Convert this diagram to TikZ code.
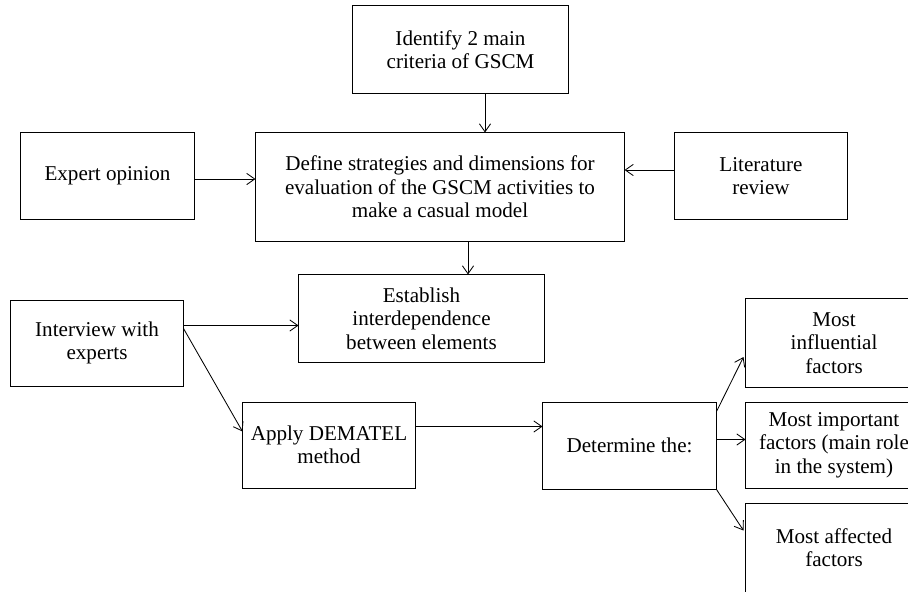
\documentclass[tikz,border=0pt]{standalone}
\usepackage{fontspec}
\setmainfont{Liberation Serif}
\usetikzlibrary{calc,arrows.meta}

\begin{document}
\begin{tikzpicture}[%
		x=0.025cm, y=-0.025cm,
		font=\fontsize{15}{16.6}\selectfont,
		box/.style={draw, line width=0.7pt, align=center, inner sep=0pt,
			minimum width=4.3cm, minimum height=2.15cm},
		link/.style={->, line width=0.6pt},
		>={Straight Barb[length=2mm,width=2.8mm]}
		]

		%% Rahmen (rechte Kaesten laufen ueber den Rand)
		\clip (0,0) rectangle (908,592);

		%% Kaesten
		\node[box, minimum width=5.375cm, minimum height=2.175cm] (identify) at (460.5,49.5) {Identify 2 main\\criteria of GSCM};
		\node[box, minimum width=9.2cm, minimum height=2.7cm] (define) at (440,187) {Define strategies and dimensions for\\evaluation of the GSCM activities to\\make a casual model};
		\node[box, minimum width=4.325cm] (expert) at (107.5,176) {Expert opinion};
		\node[box] (literature) at (761,176) {Literature\\review};
		\node[box, minimum width=6.125cm, minimum height=2.175cm] (establish) at (421.5,318.5) {Establish\\interdependence\\between elements};
		\node[box] (interview) at (97,343) {Interview with\\experts};
		\node[box] (apply) at (329,445) {Apply DEMATEL\\method};
		\node[box, minimum width=4.325cm, minimum height=2.175cm] (determine) at (629.5,445.5) {Determine the:};
		\node[box, minimum width=4.4cm, minimum height=2.2cm] (influential) at (834,343) {Most\\influential\\factors};
		\node[box, minimum width=4.4cm] (important) at (834,445) {Most important\\factors (main role\\in the system)};
		\node[box, minimum width=4.4cm, minimum height=2.225cm] (affected) at (834,547.5) {Most affected\\factors};

		%% Pfeile
		\coordinate (identifyout) at ($(identify.south)+(24.5,0)$);
		\draw[link] (identifyout) -- (identifyout |- define.north);
		\coordinate (expertout) at ($(expert.east)+(0,3)$);
		\draw[link] (expertout) -- (expertout -| define.west);
		\coordinate (literatureout) at ($(literature.west)+(0,-6)$);
		\draw[link] (literatureout) -- (literatureout -| define.east);
		\coordinate (defineout) at ($(define.south)+(28,0)$);
		\draw[link] (defineout) -- (defineout |- establish.north);
		\coordinate (interviewout) at ($(interview.north east)+(0,26)$);
		\draw[link] (interviewout) -- (interviewout -| establish.west);
		\draw[link] ($(interview.north east)+(0,29)$) -- ($(apply.north west)+(0,30)$);
		\coordinate (applyout) at ($(apply.north east)+(0,25)$);
		\draw[link] (applyout) -- (applyout -| determine.west);
		\draw[link] ($(determine.north east)+(0,10)$) -- ($(influential.west)+(-2,14)$);
		\coordinate (determineout) at ($(determine.east)+(0,-6)$);
		\draw[link] (determineout) -- (determineout -| important.west);
		\draw[link] (determine.south east) -- ($(affected.west)+(-2,-17)$);

	\end{tikzpicture}
\end{document}
